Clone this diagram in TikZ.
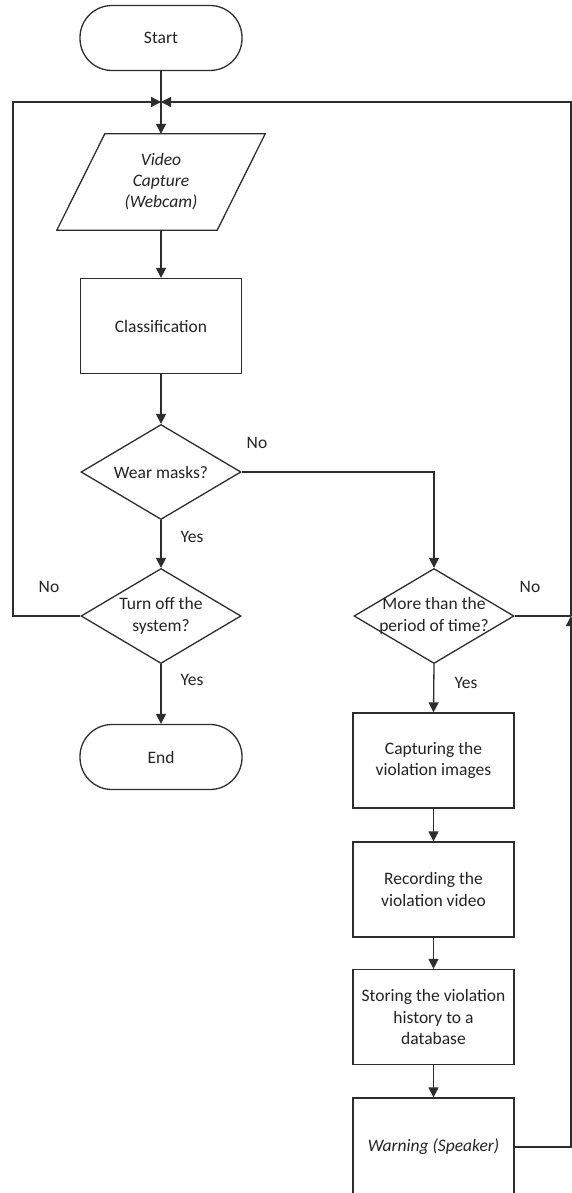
\documentclass[tikz,border=0pt]{standalone}
\usepackage{fontspec}
\setmainfont{Carlito}
\usetikzlibrary{shapes.geometric,arrows.meta}
\definecolor{ln}{RGB}{45,45,45}
\definecolor{tx}{RGB}{35,35,35}
\begin{document}
\begin{tikzpicture}[x=1pt,y=-1pt,
  every node/.style={font=\fontsize{17.5}{21.5}\selectfont, text=tx},
  term/.style={draw=ln, line width=1.3pt, rounded corners=32pt, minimum width=162pt, minimum height=65pt, inner sep=0pt},
  proc/.style={draw=ln, line width=1.3pt, minimum width=161pt, minimum height=95pt, inner sep=0pt, align=center},
  dec/.style={draw=ln, line width=1.3pt, shape=diamond, minimum width=160pt, minimum height=95pt, inner sep=0pt},
  txt/.style={align=center, inner sep=0pt},
  lbl/.style={inner sep=0pt},
  con/.style={draw=ln, line width=1.3pt},
  arr/.style={con, -{Triangle[width=10pt,length=10pt]}}
]
\useasboundingbox (0,0) rectangle (572,1193);

% nodes
\node[term] (start) at (161,38) {Start};
\coordinate (jn) at (161,102);
\node[minimum width=160pt, minimum height=96pt, inner sep=0pt] (video) at (161,182) {};
\draw[ln, line width=1.3pt] ([xshift=24pt]video.north west) -- ([xshift=24pt]video.north east)
  -- ([xshift=-24pt]video.south east) -- ([xshift=-24pt]video.south west) -- cycle;
\node[txt, font=\fontsize{17.5}{21}\selectfont\itshape] at (video) {Video\\Capture\\(Webcam)};
\node[proc] (class) at (161,326) {Classification};
\node[dec] (wear) at (161,472) {};
\node[txt] at (wear) {Wear masks?};
\node[dec] (turn) at (161,616) {};
\node[txt] at (turn) {Turn off the\\system?};
\node[term] (end) at (161,757) {End};
\node[dec] (more) at (434,616) {};
\node[txt] at (more) {More than the\\period of time?};
\node[proc] (capt) at (433.5,760.5) {Capturing the\\violation images};
\node[proc] (rec) at (433.5,889.5) {Recording the\\violation video};
\node[proc] (stor) at (433.5,1017) {Storing the violation\\history to a\\database};
\node[proc, minimum height=98pt] (warn) at (433.5,1147) {\itshape Warning (Speaker)};
\coordinate (rj) at (571,616);

% labels
\node[lbl] at (257,443) {No};
\node[lbl] at (192,537) {Yes};
\node[lbl] at (49,587) {No};
\node[lbl] at (530,587) {No};
\node[lbl] at (192,680) {Yes};
\node[lbl] at (466,683) {Yes};

% connectors
\draw[con] (start.south) -- (jn);
\draw[arr] (jn) -- (video.north);
\draw[arr] (video.south) -- (class.north);
\draw[arr] (class.south) -- (wear.north);
\draw[arr] (wear.south) -- (turn.north);
\draw[arr] (turn.south) -- (end.north);
\draw[arr] (wear.east) -| (more.north);
\draw[arr] (turn.west) -- (13,616) -- (13,102) -- (jn);
\draw[arr] (more.south) -- (capt.north);
\draw[arr] (capt.south) -- (rec.north);
\draw[arr] (rec.south) -- (stor.north);
\draw[arr] (stor.south) -- (warn.north);
\draw[con] (more.east) -- (rj);
\draw[arr] (warn.east) -| (rj);
\draw[arr] (rj) -- (571,102) -- (jn);
\end{tikzpicture}
\end{document}
